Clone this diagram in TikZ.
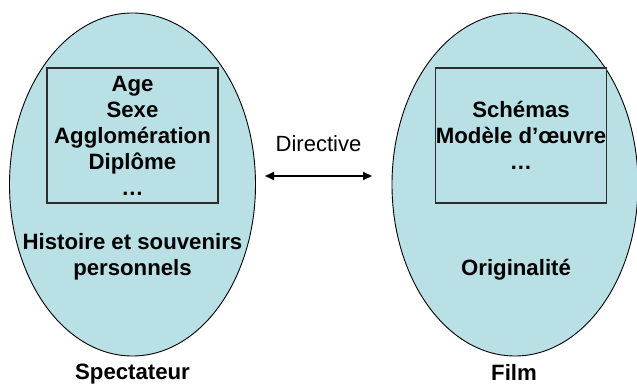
\documentclass[tikz,border=0pt]{standalone}
\usepackage{fontspec}
\setmainfont{Liberation Sans}
\usetikzlibrary{arrows.meta,positioning,shapes.geometric}
\definecolor{pale}{RGB}{185,224,228}
\definecolor{boxline}{RGB}{45,45,45}
\tikzset{oval/.style={ellipse,draw=black,fill=pale,line width=0.9pt,minimum width=246pt,minimum height=343pt,inner sep=0pt},
  facts/.style={draw=boxline,fill=pale,line width=1.2pt,minimum width=171pt,minimum height=135pt,inner sep=0pt,align=center,font=\bfseries\fontsize{22.2}{26}\selectfont},
  caption/.style={font=\bfseries\fontsize{22.2}{26}\selectfont,align=center},
  link/.style={{Triangle[length=9pt,width=8pt]}-{Triangle[length=9pt,width=8pt]},line width=1.8pt}}
\begin{document}
\begin{tikzpicture}[x=1pt, y=-1pt]
\useasboundingbox (0,0) rectangle (637,385);
\node[oval] (spect) at (132.5,184.5) {};
\node[oval] (film) at (515,184.5) {};
\node[facts] (traits) at (132.5,135.5) {Age\\Sexe\\Agglomération\\Diplôme\\…};
\node[facts] (schemes) at (521,135.5) {Schémas\\Modèle d’œuvre\\…};
\node[caption] (memory) at (132.5,256.5) {Histoire et souvenirs\\personnels};
\node[caption, anchor=base] (origin) at (516,275) {Originalité};
\node[caption, anchor=base] (spectname) at (132.5,379.5) {Spectateur};
\node[caption, anchor=base] (filmname) at (514,380.5) {Film};
% directive link
\coordinate (linkL) at (265,176);
\coordinate (linkR) at (372,176);
\draw[link] (linkL) -- (linkR);
\node[font=\fontsize{22}{26}\selectfont, anchor=base] (directive) at (318.5,151) {Directive};
\end{tikzpicture}
\end{document}
